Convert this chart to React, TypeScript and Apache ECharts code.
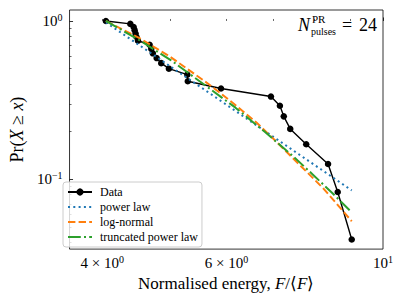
import React, { useEffect, useRef } from "react";
import * as echarts from "echarts";

// Data (raw units; axes are logarithmic)
const dataEnergy = [4.047, 4.383, 4.431, 4.445, 4.459, 4.473, 4.494, 4.668, 4.693, 4.717, 4.776, 4.848, 4.971, 5.279, 5.287, 5.893, 6.936, 7.142, 7.233, 7.387, 7.783, 8.358, 8.626, 9.03];
const dataCcdf = [1.0, 0.9583, 0.9167, 0.875, 0.8333, 0.7917, 0.75, 0.7083, 0.6667, 0.625, 0.5833, 0.5417, 0.5, 0.4583, 0.4167, 0.375, 0.3333, 0.2917, 0.25, 0.2083, 0.1667, 0.125, 0.0833, 0.0417];

const powerX = [4.047, 9.03];
const powerY = [0.98, 0.0852];

const lognormX = [4.047, 4.508, 4.982, 5.651, 6.145, 6.616, 7.009, 7.387, 7.783, 8.228, 8.647, 9.03];
const lognormY = [1.0, 0.782, 0.598, 0.4016, 0.3006, 0.2283, 0.1785, 0.1416, 0.1123, 0.0878, 0.0681, 0.0544];

const truncX = [4.047, 4.508, 5.007, 5.68, 6.178, 6.791, 7.464, 7.949, 8.466, 9.03];
const truncY = [1.0, 0.7595, 0.5644, 0.3736, 0.2837, 0.2003, 0.1395, 0.1075, 0.0823, 0.062];

const xLimits = [3.594, 10];
const yLimits = [0.0363, 1.173];
const xLabelTicks = [4, 6, 10];
const xMajorTicks = [10];
const xMinorTicks = [4, 5, 6, 7, 8, 9];
const yLabelTicks = [0.1, 1];
const yMajorTicks = [0.1, 1];
const yMinorTicks = [0.04, 0.05, 0.06, 0.07, 0.08, 0.09, 0.2, 0.3, 0.4, 0.5, 0.6, 0.7, 0.8, 0.9];

const legendNames = ["Data", "power law", "log-normal", "truncated power law"];

const FONT = "Liberation Serif, serif";
const lg = (v: number) => Math.log10(v);
const pairs = (xs: number[], ys: number[]) => xs.map((x, i) => [lg(x), lg(ys[i])]);

export default function App() {
  const ref = useRef<HTMLDivElement>(null);
  useEffect(() => {
    if (!ref.current) return;
    const chart = echarts.init(ref.current, undefined, { renderer: "svg" });
    const richLabel = {
      b: { fontFamily: FONT, fontSize: 15, color: "#000", lineHeight: 17 },
      sup: { fontFamily: FONT, fontSize: 10, color: "#000", lineHeight: 10, verticalAlign: "top" as const },
    };
    const xFmt = (value: number) => {
      const v = Math.pow(10, value);
      if (Math.abs(v - 10) < 1e-6) return "{b|10}{sup|1}";
      return `{b|${Math.round(v)} × 10}{sup|0}`;
    };
    const yFmt = (value: number) => {
      const e = Math.round(value);
      return `{b|10}{sup|${e < 0 ? "−" + Math.abs(e) : e}}`;
    };
    const commonX = {
      type: "value" as const,
      position: "bottom" as const,
      min: lg(xLimits[0]),
      max: lg(xLimits[1]),
      axisLine: { show: false },
      splitLine: { show: false },
    };
    const commonY = {
      type: "value" as const,
      position: "left" as const,
      min: lg(yLimits[0]),
      max: lg(yLimits[1]),
      axisLine: { show: false },
      splitLine: { show: false },
    };
    const legendData = legendNames.map((n, i) => (i === 0 ? { name: n } : { name: n, itemStyle: { opacity: 0 } }));
    chart.setOption({
      animation: false,
      backgroundColor: "#fff",
      textStyle: { fontFamily: FONT, color: "#000" },
      grid: { left: 58, right: 16, top: 10, bottom: 47, show: true, borderColor: "#000", borderWidth: 0.8, backgroundColor: "transparent" },
      xAxis: [
        {
          ...commonX,
          name: "{n|Normalised energy, }{i|F}{n|/⟨}{i|F}{n|⟩}",
          nameLocation: "middle",
          nameGap: 18,
          nameTextStyle: {
            fontFamily: FONT,
            rich: {
              n: { fontFamily: FONT, fontSize: 17, color: "#000" },
              i: { fontFamily: FONT, fontSize: 17, color: "#000", fontStyle: "italic" },
            },
          },
          axisTick: { show: true, inside: true, length: 3.5, lineStyle: { color: "#000", width: 0.8 }, customValues: xMajorTicks.map(lg) },
          axisLabel: { show: true, margin: 5, fontFamily: FONT, fontSize: 15, color: "#000", customValues: xLabelTicks.map(lg), formatter: xFmt, rich: richLabel },
        },
        {
          ...commonX,
          axisTick: { show: true, inside: true, length: 2, lineStyle: { color: "#000", width: 0.6 }, customValues: xMinorTicks.map(lg) },
          axisLabel: { show: false },
        },
      ],
      yAxis: [
        {
          ...commonY,
          name: "{n|Pr(}{i|X}{n| ≥ }{i|x}{n|)}",
          nameLocation: "middle",
          nameGap: 37,
          nameRotate: 90,
          nameTextStyle: {
            fontFamily: FONT,
            rich: {
              n: { fontFamily: FONT, fontSize: 18, color: "#000" },
              i: { fontFamily: FONT, fontSize: 18, color: "#000", fontStyle: "italic" },
            },
          },
          axisTick: { show: true, inside: true, length: 3.5, lineStyle: { color: "#000", width: 0.8 }, customValues: yMajorTicks.map(lg) },
          axisLabel: { show: true, margin: 7, fontFamily: FONT, fontSize: 15, color: "#000", customValues: yLabelTicks.map(lg), formatter: yFmt, rich: richLabel },
        },
        {
          ...commonY,
          axisTick: { show: true, inside: true, length: 2, lineStyle: { color: "#000", width: 0.6 }, customValues: yMinorTicks.map(lg) },
          axisLabel: { show: false },
        },
      ],
      legend: {
        data: legendData,
        orient: "vertical",
        left: 63,
        top: 182,
        itemWidth: 24,
        itemHeight: 9,
        itemGap: 1,
        padding: [3, 4, 3, 4],
        backgroundColor: "rgba(255,255,255,0.8)",
        borderColor: "#cccccc",
        borderWidth: 1,
        borderRadius: 3,
        textStyle: { fontFamily: FONT, fontSize: 12, color: "#000", lineHeight: 14, padding: [0, 0, 0, 3] },
      },
      graphic: [
        { type: "text", x: 298, y: 25, style: { text: "N", fontFamily: FONT, fontStyle: "italic", fontSize: 18, fill: "#000", verticalAlign: "middle", align: "left" } },
        { type: "text", x: 312, y: 19, style: { text: "PR", fontFamily: FONT, fontSize: 11, fill: "#000", verticalAlign: "middle", align: "left" } },
        { type: "text", x: 311, y: 31, style: { text: "pulses", fontFamily: FONT, fontSize: 10, fill: "#000", verticalAlign: "middle", align: "left" } },
        { type: "text", x: 347, y: 25, style: { text: "=", fontFamily: FONT, fontSize: 18, fill: "#000", verticalAlign: "middle", align: "center" } },
        { type: "text", x: 377, y: 25, style: { text: "24", fontFamily: FONT, fontSize: 18, fill: "#000", verticalAlign: "middle", align: "right" } },
      ],
      series: [
        {
          name: "Data",
          type: "line",
          xAxisIndex: 0,
          yAxisIndex: 0,
          data: pairs(dataEnergy, dataCcdf),
          symbol: "circle",
          symbolSize: 6.5,
          lineStyle: { color: "#000", width: 1.4 },
          itemStyle: { color: "#000" },
          z: 2,
        },
        {
          name: "power law",
          type: "line",
          data: pairs(powerX, powerY),
          symbol: "none",
          lineStyle: { color: "#1f77b4", width: 2, type: [2, 3.3], cap: "butt" },
          itemStyle: { color: "#1f77b4" },
          z: 3,
        },
        {
          name: "log-normal",
          type: "line",
          data: pairs(lognormX, lognormY),
          symbol: "none",
          lineStyle: { color: "#ff7f0e", width: 2, type: [7.4, 3.2], cap: "butt" },
          itemStyle: { color: "#ff7f0e" },
          z: 3,
        },
        {
          name: "truncated power law",
          type: "line",
          data: pairs(truncX, truncY),
          symbol: "none",
          lineStyle: { color: "#2ca02c", width: 2, type: [12.8, 3.2, 2, 3.2], cap: "butt" },
          itemStyle: { color: "#2ca02c" },
          z: 3,
        },
      ],
    });
    return () => chart.dispose();
  }, []);
  return <div ref={ref} style={{ position: "fixed", left: 0, top: 0, width: 399, height: 297, background: "#fff" }} />;
}
